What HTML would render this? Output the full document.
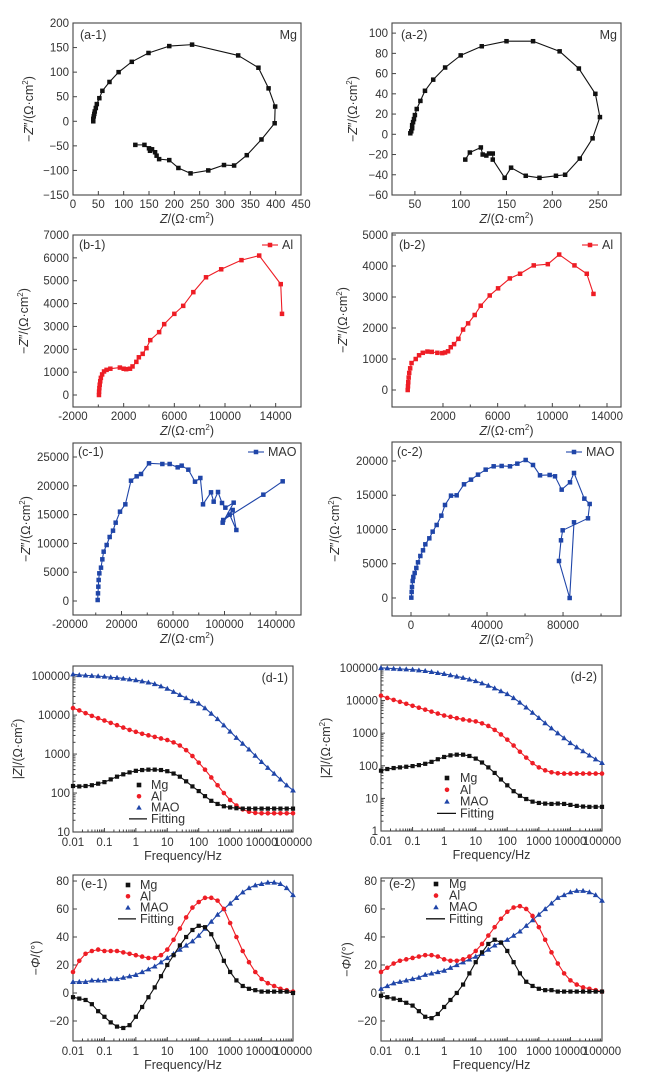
<!DOCTYPE html>
<html><head><meta charset="utf-8"><title>EIS figure</title>
<style>
html,body{margin:0;padding:0;background:#fff;}
svg{display:block;font-family:"Liberation Sans",Arial,sans-serif;}
text{fill:#333;}
</style></head>
<body>
<svg id="fig" width="648" height="1086" viewBox="0 0 648 1086" xmlns="http://www.w3.org/2000/svg"></svg>
<script>
// ===== Nyquist data =====
const a1Re = [40,40,41,42,43,45,47,52,58,72,90,116,149,190,235,326,366,386,399,398,372,343,318,298,267,232,208,190,170,165,162,156,152,150,141,123];
const a1Im = [0,5,10,15,20,27,35,47,62,80,100,121,139,153,156,134,109,67,30,-4,-37,-69,-90,-89,-100,-106,-95,-79,-77,-70,-63,-57,-60,-55,-48,-48];
const a2Re = [45,46,47,47,48,49,50,52,56,61,70,83,100,123,150,179,208,229,247,252,244,230,214,204,186,171,155,148,135,135,131,128,124,122,110,105];
const a2Im = [1,3,6,9,12,15,19,25,33,43,54,66,78,87,92,92,82,65,40,17,-4,-24,-40,-41,-43,-41,-33,-43,-25,-19,-19,-21,-20,-13,-18,-25];
const b1Re = [50,60,80,110,150,200,300,450,650,950,1700,2000,2200,2500,2700,3000,3200,3500,3800,4100,4800,5200,6000,6700,7500,8500,9700,11300,12700,14400,14500];
const b1Im = [0,150,300,450,600,750,900,1030,1100,1150,1200,1150,1130,1150,1250,1450,1650,1800,2050,2400,2750,3100,3550,3900,4500,5150,5500,5900,6100,4850,3550];
const b2Re = [-580,-560,-540,-510,-470,-400,-300,5,250,520,860,1180,1590,1950,2150,2370,2570,2810,3130,3470,3840,4320,4760,5420,6030,6890,7640,8640,9670,10500,11620,12520,13010];
const b2Im = [0,120,250,400,550,700,870,1000,1120,1200,1240,1230,1200,1190,1210,1250,1380,1480,1650,1950,2150,2420,2720,3050,3280,3600,3750,4020,4060,4370,4020,3750,3100];
const c1Re = [1490,1748,2006,2265,2784,4078,5113,6149,8479,10809,13398,15469,18835,22977,27379,31780,35146,41359,51715,57411,63625,66731,71910,77088,81230,83301,89515,91586,94952,98059,100648,107120,98577,106344,109191,104000,99000,130162,145178];
const c1Im = [174,1331,2488,3646,4803,5787,7234,8565,9722,11111,12211,13600,15509,16782,20891,21643,22049,23900,23785,23785,23206,23496,22801,20718,21355,16782,18866,17245,18924,17013,16204,17071,13600,15799,12327,15000,14062,18461,20776];
const c2Re = [175,351,526,877,1228,1929,2806,3683,4911,6314,7542,9647,11401,13506,15961,17891,21048,24030,27889,31572,35255,39290,43499,47709,52094,55953,60338,64196,67880,72966,75773,79281,83666,85771,91208,94014,93137,79807,78930,77878,83490,85771];
const c2Im = [50,876,1606,2482,3066,3650,4379,5207,6131,6958,7834,8710,9683,10657,12019,13576,14939,14987,16593,17274,18004,18734,19221,19269,19221,19610,20145,19415,17907,17955,17761,15815,16885,18248,14501,13722,11630,9878,8418,5401,0,11046];

// ===== Bode data (log10 frequency grid) =====
const logFreq = [-2,-1.8,-1.6,-1.4,-1.2,-1,-0.8,-0.6,-0.4,-0.2,0,0.2,0.4,0.6,0.8,1,1.2,1.4,1.6,1.8,2,2.2,2.4,2.6,2.8,3,3.2,3.4,3.6,3.8,4,4.2,4.4,4.6,4.8,5];
const d1MgLogZ = [2.18,2.17,2.18,2.2,2.24,2.28,2.35,2.42,2.48,2.53,2.57,2.59,2.6,2.6,2.59,2.56,2.5,2.42,2.3,2.17,2.05,1.92,1.8,1.72,1.66,1.63,1.61,1.6,1.6,1.6,1.6,1.6,1.6,1.6,1.6,1.6];
const d1AlLogZ = [4.18,4.12,4.05,3.98,3.92,3.86,3.8,3.74,3.68,3.62,3.57,3.52,3.48,3.44,3.4,3.36,3.3,3.22,3.1,2.95,2.78,2.6,2.4,2.2,2.0,1.82,1.68,1.58,1.52,1.49,1.48,1.48,1.48,1.48,1.48,1.48];
const d1MaoLogZ = [5.05,5.03,5.02,5.01,5.0,4.99,4.97,4.96,4.94,4.92,4.9,4.87,4.84,4.8,4.74,4.68,4.6,4.52,4.44,4.36,4.3,4.18,4.04,3.9,3.74,3.58,3.42,3.27,3.12,2.96,2.8,2.65,2.5,2.35,2.2,2.07];
const d2MgLogZ = [1.85,1.9,1.93,1.95,1.97,1.99,2.02,2.06,2.12,2.2,2.27,2.32,2.34,2.34,2.3,2.22,2.1,1.95,1.78,1.58,1.4,1.22,1.08,0.98,0.9,0.86,0.84,0.83,0.84,0.83,0.8,0.77,0.75,0.74,0.74,0.74];
const d2AlLogZ = [4.15,4.08,4.02,3.96,3.9,3.84,3.78,3.72,3.66,3.6,3.54,3.5,3.46,3.42,3.39,3.36,3.3,3.22,3.1,2.96,2.8,2.62,2.43,2.25,2.08,1.95,1.86,1.8,1.77,1.76,1.76,1.76,1.76,1.76,1.76,1.76];
const d2MaoLogZ = [5.0,4.99,4.98,4.97,4.96,4.95,4.93,4.91,4.88,4.85,4.82,4.78,4.74,4.7,4.65,4.6,4.53,4.46,4.38,4.29,4.2,4.08,3.94,3.79,3.63,3.47,3.31,3.15,3.0,2.85,2.7,2.57,2.45,2.32,2.2,2.09];
const e1MgPhase = [-3,-4,-5,-8,-13,-17,-21,-24,-25,-23,-17,-10,-3,4,12,20,27,34,40,45,48,47,42,33,23,15,9,5,3,2,1,1,1,1,1,0];
const e1AlPhase = [15,23,28,30,31,30,30,30,29,28,27,26,25,25,27,31,38,46,54,61,65,68,68,66,60,50,40,30,22,15,10,7,5,3,2,1];
const e1MaoPhase = [8,8,8,9,9,9,10,10,11,12,13,15,17,19,22,25,28,31,34,37,41,46,51,56,60,64,68,72,75,77,78,79,79,78,75,70];
const e2MgPhase = [-2,-3,-4,-5,-7,-9,-13,-17,-18,-15,-10,-5,0,6,14,22,29,35,38,36,30,22,14,8,5,3,2,2,1,1,1,1,1,1,1,1];
const e2AlPhase = [15,18,21,23,24,25,26,27,27,26,24,23,23,24,26,30,35,41,47,53,58,61,62,60,55,47,38,29,21,14,9,6,4,3,2,1];
const e2MaoPhase = [3,5,7,8,9,10,11,13,14,15,16,18,20,22,24,26,28,31,34,36,38,41,44,48,52,56,60,64,68,70,72,73,73,72,70,66];

// ===== tick label arrays =====
const a1XTicks = [0,50,100,150,200,250,300,350,400,450];
const a1YTicks = [-150,-100,-50,0,50,100,150,200];
const a2XTicks = [50,100,150,200,250];
const a2YTicks = [-60,-40,-20,0,20,40,60,80,100];
const b1XTicks = [-2000,2000,6000,10000,14000];
const b1YTicks = [0,1000,2000,3000,4000,5000,6000,7000];
const b2XTicks = [2000,6000,10000,14000];
const b2YTicks = [0,1000,2000,3000,4000,5000];
const c1XTicks = [-20000,20000,60000,100000,140000];
const c1YTicks = [0,5000,10000,15000,20000,25000];
const c2XTicks = [0,40000,80000];
const c2YTicks = [0,5000,10000,15000,20000];
const freqLabels = ["0.01","0.1","1","10","100","1000","10000","100000"];
const d1YLabels = ["10","100","1000","10000","100000"];
const d2YLabels = ["1","10","100","1000","10000","100000"];
const phaseTicks = [-20,0,20,40,60,80];

const NS = "http://www.w3.org/2000/svg";
const svg = document.getElementById('fig');
const BLACK = "#111", RED = "#ee1d25", BLUE = "#1f45a8";

function mk(tag, attrs, parent){
  const e = document.createElementNS(NS, tag);
  for (const k in attrs) e.setAttribute(k, attrs[k]);
  (parent || svg).appendChild(e);
  return e;
}
function lin(d0,d1,p0,p1){ return v => p0 + (v-d0)*(p1-p0)/(d1-d0); }

function makePanel(id, box, xd, yd){
  const g = mk('g', {});
  
  
  const P = {g, box, x: lin(xd[0],xd[1],box[0],box[2]), y: lin(yd[0],yd[1],box[3],box[1]), xd, yd};
  return P;
}
function frame(P){
  const [l,t,r,b] = P.box;
  const f = mk('rect', {x:l, y:t, width:r-l, height:b-t, fill:'none', stroke:'#444', 'stroke-width':1.1}, P.g);
  
  
}
function txt(P, s, x, y, anchor, size, extra){
  const t = mk('text', Object.assign({x, y, 'text-anchor':anchor, 'font-size':size}, extra||{}), P.g);
  t.innerHTML = s;
  return t;
}
function linXTicks(P, ticks, minor){
  const [l,t,r,b] = P.box;
  ticks.forEach(v => {
    const px = P.x(v);
    if (px >= l-0.5 && px <= r+0.5) mk('line', {x1:px, x2:px, y1:b, y2:b-4, stroke:'#444'}, P.g);
    const lb = txt(P, String(v), px, b+13, 'middle', 11.5);
    
    
  });
  if (minor) for (let i=0;i<ticks.length;i++){
    const v = ticks[i] + (ticks[1]-ticks[0])/2;
    const px = P.x(v);
    if (px > l && px < r) mk('line', {x1:px, x2:px, y1:b, y2:b-2.5, stroke:'#444'}, P.g);
  }
}
function linYTicks(P, ticks){
  const [l,t,r,b] = P.box;
  ticks.forEach(v => {
    const py = P.y(v);
    mk('line', {x1:l, x2:l+4, y1:py, y2:py, stroke:'#444'}, P.g);
    const lb = txt(P, String(v).replace('-', '\u2212'), l-4, py+4, 'end', 11.5);
    
    
  });
}
function logXTicks(P){
  const [l,t,r,b] = P.box;
  freqLabels.forEach((s,i) => {
    const e = -2 + i;
    const px = P.x(e);
    mk('line', {x1:px, x2:px, y1:b, y2:b-4, stroke:'#444'}, P.g);
    const lb = txt(P, s, px, b+14, 'middle', 11.5);
    
    
    if (e < 5) for (let m=2;m<10;m++){
      const mx = P.x(e + Math.log10(m));
      mk('line', {x1:mx, x2:mx, y1:b, y2:b-2.5, stroke:'#444'}, P.g);
    }
  });
}
function logYTicks(P, labels, e0){
  const [l,t,r,b] = P.box;
  labels.forEach((s,i) => {
    const e = e0 + i;
    const py = P.y(e);
    mk('line', {x1:l, x2:l+4, y1:py, y2:py, stroke:'#444'}, P.g);
    const lb = txt(P, s, l-3, py+4, 'end', 11.5);
    
    
    for (let m=2;m<10;m++){
      const my = P.y(e + Math.log10(m));
      if (my > t) mk('line', {x1:l, x2:l+2.5, y1:my, y2:my, stroke:'#444'}, P.g);
    }
  });
}
function titles(P, xt, yt, yx){
  const [l,t,r,b] = P.box;
  const xtEl = txt(P, xt, (l+r)/2, b+28, 'middle', 12.5);
  
  
  const cy = (t+b)/2;
  const ytEl = txt(P, yt, yx, cy, 'middle', 12.5, {transform:`rotate(-90 ${yx} ${cy})`});
  
  
}
function marker(P, kind, x, y, color, s){
  let m;
  if (kind === 'sq') m = mk('rect', {x:x-s/2, y:y-s/2, width:s, height:s, fill:color}, P.g);
  else if (kind === 'ci') m = mk('circle', {cx:x, cy:y, r:s/2, fill:color}, P.g);
  else m = mk('polygon', {points:`${x},${y-s*0.6} ${x-s*0.6},${y+s*0.45} ${x+s*0.6},${y+s*0.45}`, fill:color}, P.g);
  return m;
}
function series(P, xs, ys, color, kind, s, name, withLine){
  const [l,t,r,b] = P.box;
  const pts = xs.map((v,i) => [P.x(v), P.y(ys[i])]);
  if (withLine){
    const pl = mk('polyline', {points: pts.map(p=>p.join(',')).join(' '), fill:'none', stroke:color, 'stroke-width':1.1, 'stroke-linejoin':'round'}, P.g);
    
    
  }
  pts.forEach(p => {
    if (p[0] < l-2 || p[0] > r+2 || p[1] < t-2 || p[1] > b+2) return;
    const m = marker(P, kind, p[0], p[1], color, s);
    
    
  });
}
function nyqLegend(P, label, color, lx, ly){
  const ln = mk('line', {x1:lx, x2:lx+16, y1:ly-4, y2:ly-4, stroke:color, 'stroke-width':1.1}, P.g);
  
  
  const m = marker(P, 'sq', lx+8, ly-4, color, 4.5);
  
  
  const t = txt(P, label, lx+20, ly, 'start', 12.5);
  
  
}
function bodeLegend(P, mx, tx, y0, dy){
  const items = [['sq',BLACK,'Mg'],['ci',RED,'Al'],['tr',BLUE,'MAO']];
  items.forEach((it,i) => {
    const y = y0 + i*dy;
    const m = marker(P, it[0], mx, y-4, it[1], 4.6);
    
    
    const t = txt(P, it[2], tx, y, 'start', 12.5);
    
    
  });
  const y = y0 + 3*dy;
  const ln = mk('line', {x1:mx-10, x2:tx-4, y1:y-4, y2:y-4, stroke:BLACK, 'stroke-width':1.3}, P.g);
  
  
  const t = txt(P, 'Fitting', tx, y, 'start', 12.5);
  
  
}
function tag(P, s, x, y, anchor){
  const t = txt(P, s, x, y, anchor||'start', 12.5);
  
  
}

const ZX = '<tspan font-style="italic">Z</tspan>/(Ω·cm<tspan font-size="8" dy="-5">2</tspan><tspan dy="5">)</tspan>';
const ZY = '−<tspan font-style="italic">Z</tspan>″/(Ω·cm<tspan font-size="8" dy="-5">2</tspan><tspan dy="5">)</tspan>';
const ZM = '|<tspan font-style="italic">Z</tspan>|/(Ω·cm<tspan font-size="8" dy="-5">2</tspan><tspan dy="5">)</tspan>';
const PH = '−<tspan font-style="italic">Φ</tspan>/(°)';

// ---- (a-1)
let P = makePanel('panel-a1', [73,23,301,195], [0,450], [-150,200]);
frame(P); linXTicks(P, a1XTicks); linYTicks(P, a1YTicks); titles(P, ZX, ZY, 33);
series(P, a1Re, a1Im, BLACK, 'sq', 4.5, 'mg-nyquist', true);
tag(P, '(a-1)', 80, 39); tag(P, 'Mg', 297, 39, 'end');
// ---- (a-2)
P = makePanel('panel-a2', [392,23,621,195], [25,275], [-60,110]);
frame(P); linXTicks(P, a2XTicks); linYTicks(P, a2YTicks); titles(P, ZX, ZY, 357);
series(P, a2Re, a2Im, BLACK, 'sq', 4.5, 'mg-nyquist', true);
tag(P, '(a-2)', 401, 39); tag(P, 'Mg', 617, 39, 'end');
// ---- (b-1)
P = makePanel('panel-b1', [73,235,301,407], [-2000,16000], [-525,7000]);
frame(P); linXTicks(P, b1XTicks, true); linYTicks(P, b1YTicks); titles(P, ZX, ZY, 28);
series(P, b1Re, b1Im, RED, 'sq', 4.5, 'al-nyquist', true);
tag(P, '(b-1)', 79, 249); nyqLegend(P, 'Al', RED, 262, 249);
// ---- (b-2)
P = makePanel('panel-b2', [392,233,621,407], [-1730,15024], [-548,5065]);
frame(P); linXTicks(P, b2XTicks, true); linYTicks(P, b2YTicks); titles(P, ZX, ZY, 347);
series(P, b2Re, b2Im, RED, 'sq', 4.5, 'al-nyquist', true);
tag(P, '(b-2)', 399, 249); nyqLegend(P, 'Al', RED, 582, 249);
// ---- (c-1)
P = makePanel('panel-c1', [73,443,301,615], [-17670,159400], [-2430,27430]);
frame(P); linXTicks(P, c1XTicks, true); linYTicks(P, c1YTicks); titles(P, ZX, ZY, 30);
series(P, c1Re, c1Im, BLUE, 'sq', 4.5, 'mao-nyquist', true);
tag(P, '(c-1)', 78, 456); nyqLegend(P, 'MAO', BLUE, 248, 456);
// ---- (c-2)
P = makePanel('panel-c2', [392,442,621,616], [-10000,110500], [-2630,22770]);
frame(P); linXTicks(P, c2XTicks, true); linYTicks(P, c2YTicks); titles(P, ZX, ZY, 339);
series(P, c2Re, c2Im, BLUE, 'sq', 4.5, 'mao-nyquist', true);
tag(P, '(c-2)', 397, 456); nyqLegend(P, 'MAO', BLUE, 566, 456);
// ---- (d-1)
P = makePanel('panel-d1', [73,666,293,832], [-2,5], [1,5.26]);
frame(P); logXTicks(P); logYTicks(P, d1YLabels, 1); titles(P, 'Frequency/Hz', ZM, 22);
series(P, logFreq, d1MaoLogZ, BLUE, 'tr', 4.8, 'mao-impedance', true);
series(P, logFreq, d1AlLogZ, RED, 'ci', 4.6, 'al-impedance', true);
series(P, logFreq, d1MgLogZ, BLACK, 'sq', 4.2, 'mg-impedance', true);
tag(P, '(d-1)', 288, 682, 'end'); bodeLegend(P, 139, 151, 789, 11.3);
// ---- (d-2)
P = makePanel('panel-d2', [381,665,602,831], [-2,5], [0,5.09]);
frame(P); logXTicks(P); logYTicks(P, d2YLabels, 0); titles(P, 'Frequency/Hz', ZM, 330);
series(P, logFreq, d2MaoLogZ, BLUE, 'tr', 4.8, 'mao-impedance', true);
series(P, logFreq, d2AlLogZ, RED, 'ci', 4.6, 'al-impedance', true);
series(P, logFreq, d2MgLogZ, BLACK, 'sq', 4.2, 'mg-impedance', true);
tag(P, '(d-2)', 597, 681, 'end'); bodeLegend(P, 447, 460, 782, 11.8);
// ---- (e-1)
P = makePanel('panel-e1', [73,875,293,1041], [-2,5], [-34.3,84.3]);
frame(P); logXTicks(P); linYTicks(P, phaseTicks); titles(P, 'Frequency/Hz', PH, 40);
series(P, logFreq, e1MaoPhase, BLUE, 'tr', 4.8, 'mao-phase', true);
series(P, logFreq, e1AlPhase, RED, 'ci', 4.6, 'al-phase', true);
series(P, logFreq, e1MgPhase, BLACK, 'sq', 4.2, 'mg-phase', true);
tag(P, '(e-1)', 81, 888); bodeLegend(P, 128, 140, 889, 11.3);
// ---- (e-2)
P = makePanel('panel-e2', [381,878,602,1041], [-2,5], [-34.3,82.1]);
frame(P); logXTicks(P); linYTicks(P, phaseTicks); titles(P, 'Frequency/Hz', PH, 351);
series(P, logFreq, e2MaoPhase, BLUE, 'tr', 4.8, 'mao-phase', true);
series(P, logFreq, e2AlPhase, RED, 'ci', 4.6, 'al-phase', true);
series(P, logFreq, e2MgPhase, BLACK, 'sq', 4.2, 'mg-phase', true);
tag(P, '(e-2)', 389, 888); bodeLegend(P, 436, 449, 888, 11.6);
</script>
</body></html>
